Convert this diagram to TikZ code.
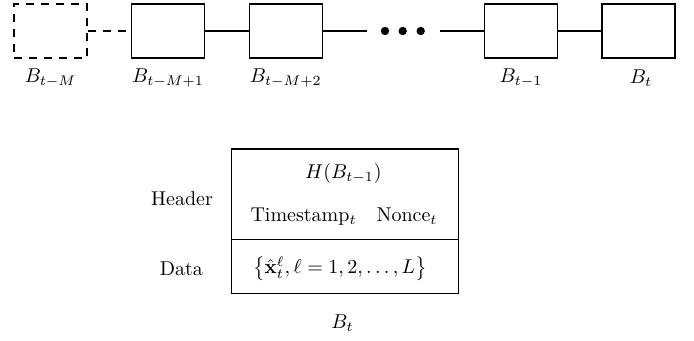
\documentclass[tikz,border=0pt]{standalone}
\usepackage{amsmath}
\begin{document}
\begin{tikzpicture}[x=0.5pt,y=-0.5pt,
  blockbox/.style={draw,line width=0.8pt,minimum width=36.5pt,minimum height=27pt,inner sep=0pt},
  ghostbox/.style={blockbox,dash pattern=on 4pt off 3.5pt},
  link/.style={line width=0.8pt},
  ghostlink/.style={line width=0.8pt,dash pattern=on 4pt off 3.5pt},
  dotnode/.style={circle,fill=black,minimum size=4.2pt,inner sep=0pt},
  lbl/.style={inner sep=0pt,font=\normalsize},
  bigbox/.style={draw,line width=0.6pt,minimum width=113.3pt,minimum height=72.2pt,inner sep=0pt}]
\useasboundingbox (0,0) rectangle (694,341);
% top chain
\node[ghostbox] (b1) at (50.5,31) {};
\node[blockbox] (b2) at (168,31) {};
\node[blockbox] (b3) at (285.8,31) {};
\node[blockbox] (b4) at (521,31) {};
\node[blockbox] (b5) at (638.7,31) {};
\coordinate (la) at (366.7,31);
\coordinate (lb) at (440,31);
\node[dotnode] (d1) at (385,31) {};
\node[dotnode] (d2) at (402.7,31) {};
\node[dotnode] (d3) at (420.7,31) {};
\draw[ghostlink] (b1) -- (b2);
\draw[link] (b2) -- (b3);
\draw[link] (b3) -- (la);
\draw[link] (lb) -- (b4);
\draw[link] (b4) -- (b5);
\node[lbl] (t1) at (50.5,78) {$B_{t-M}$};
\node[lbl] (t2) at (168,78) {$B_{t-M+1}$};
\node[lbl] (t3) at (285.8,78) {$B_{t-M+2}$};
\node[lbl] (t4) at (521,78) {$B_{t-1}$};
\node[lbl] (t5) at (641,78) {$B_t$};
% detailed block
\node[bigbox] (blk) at (345,221.2) {};
\coordinate (dl) at (231.7,239);
\coordinate (dr) at (458.3,239);
\draw[line width=0.4pt] (dl) -- (dr);
\node[lbl] (hash) at (343.3,173.3) {$H(B_{t-1})$};
\node[lbl] (ts) at (344,216.7) {Timestamp$_t$\quad Nonce$_t$};
\node[lbl] (data) at (340,268.3) {$\left\{\hat{\mathbf{x}}_t^{\ell},\ell=1,2,\ldots,L\right\}$};
\node[lbl] (hdr) at (182,198.3) {Header};
\node[lbl] (dat) at (181.3,268.3) {Data};
\node[lbl] (bt) at (342.5,323) {$B_t$};
\end{tikzpicture}
\end{document}
